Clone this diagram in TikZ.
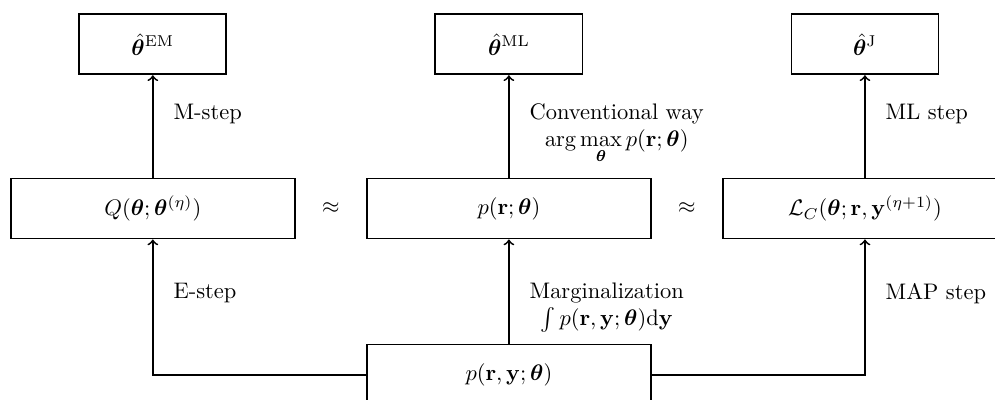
\documentclass[tikz,border=0pt]{standalone}
\usepackage{amsmath,bm}
\usepackage{tikz}
\usetikzlibrary{positioning}

\begin{document}
\begin{tikzpicture}[
  node distance=1.63cm and 1.1cm,
  box/.style={draw, thick, minimum width=4.44cm, minimum height=0.94cm, align=center},
  est/.style={box, minimum width=2.3cm},
  lbl/.style={anchor=north west, align=center, xshift=5.5pt},
  arr/.style={->, thick}
]
\useasboundingbox (-2.39,3.26) rectangle (13.17,-2.99);

% middle row: the three criteria
\node[box] (q) at (0,0) {$Q(\bm{\theta};\bm{\theta}^{(\eta)})$};
\node[box, right=of q] (p) {$p(\mathbf{r};\bm{\theta})$};
\node[box, right=of p] (lc) {$\mathcal{L}_C(\bm{\theta};\mathbf{r},\mathbf{y}^{(\eta+1)})$};

% estimates on top, joint likelihood below
\node[est, above=1.6cm of q] (em) {$\hat{\bm{\theta}}^{\mathrm{EM}}$};
\node[est, above=1.6cm of p] (ml) {$\hat{\bm{\theta}}^{\mathrm{ML}}$};
\node[est, above=1.6cm of lc] (jt) {$\hat{\bm{\theta}}^{\mathrm{J}}$};
\node[box, below=of p] (joint) {$p(\mathbf{r},\mathbf{y};\bm{\theta})$};

\path (q) -- node (ap1) {$\approx$} (p);
\path (p) -- node (ap2) {$\approx$} (lc);

\draw[arr] (q) -- node[lbl, pos=0.8] (mstep) {M-step} (em);
\draw[arr] (p) -- node[lbl, pos=0.8] (conv)
  {Conventional way\\$\arg\max\limits_{\bm{\theta}}p(\mathbf{r};\bm{\theta})$} (ml);
\draw[arr] (lc) -- node[lbl, pos=0.8] (mlstep) {ML step} (jt);

\draw[arr] (joint.west) -| node[lbl, pos=0.87] (estep) {E-step} (q);
\draw[arr] (joint) -- node[lbl, pos=0.66] (marg)
  {Marginalization\\$\int p(\mathbf{r},\mathbf{y};\bm{\theta})\mathrm{d}\mathbf{y}$} (p);
\draw[arr] (joint.east) -| node[lbl, pos=0.87] (mapstep) {MAP step} (lc);
\end{tikzpicture}
\end{document}
